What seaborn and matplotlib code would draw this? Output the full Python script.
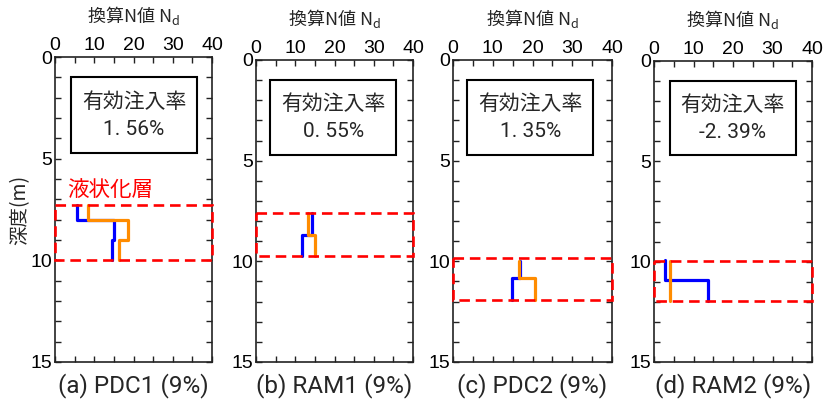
import matplotlib
matplotlib.use("Agg")
import matplotlib.pyplot as plt
from matplotlib.patches import Rectangle
from matplotlib.ticker import MultipleLocator
import seaborn as sns
import pandas as pd

sns.set_style("ticks")
plt.rcParams['font.family'] = ['Liberation Sans', 'Noto Sans CJK JP', 'DejaVu Sans']

# ---------------- data ----------------
panel_labels = ["(a) PDC1 (9%)", "(b) RAM1 (9%)", "(c) PDC2 (9%)", "(d) RAM2 (9%)"]
rates = ["1.56%", "0.55%", "1.35%", "-2.39%"]

# liquefied layer (top, bottom depth in m)
layer_top = [7.3, 7.6, 9.85, 9.95]
layer_bottom = [10.0, 9.75, 11.92, 11.95]

# step profiles: layer boundary depths and N values per layer
blue_depths = [[7.3, 8.0, 9.0, 10.0], [7.6, 8.7, 9.75], [10.0, 10.85, 11.92], [9.9, 10.9, 11.95]]
blue_N = [[5.7, 15.0, 14.6], [14.3, 11.7], [16.9, 14.9], [2.8, 13.7]]
orange_depths = [[7.3, 8.0, 9.0, 10.0], [7.6, 8.7, 9.75], [10.0, 10.85, 11.92], [9.95, 11.95]]
orange_N = [[8.3, 18.7, 16.3], [13.2, 15.0], [16.6, 20.6], [4.05]]

x_ticks = [0, 10, 20, 30, 40]
y_ticks = [0, 5, 10, 15]

# ---------------- layout ----------------
W, H = 835, 408
axes_px = [(55, 212, 57, 362), (256, 413, 60, 362), (453, 612, 60, 362), (654, 812, 61, 362)]
box_x = [(4.2, 36.1), (3.6, 35.7), (3.6, 35.3), (4.0, 35.9)]

BLUE = "#0000FF"
ORANGE = "#FF8C00"
RED = "#FF0000"
SPINE = "#222222"
CJK = ['Noto Sans CJK JP', 'DejaVu Sans']
NARROW = ['Roboto', 'Noto Sans CJK JP', 'DejaVu Sans']


def profile(depths, values, name):
    xs, ys = [], []
    for i, v in enumerate(values):
        xs += [v, v]
        ys += [depths[i], depths[i + 1]]
    return pd.DataFrame({"N": xs, "depth": ys, "series": name})


fig = plt.figure(figsize=(W / 100, H / 100), dpi=100)

for i in range(4):
    l, r, t, b = axes_px[i]
    ax = fig.add_axes([l / W, 1 - b / H, (r - l) / W, (b - t) / H])
    df = pd.concat([profile(blue_depths[i], blue_N[i], "blue"),
                    profile(orange_depths[i], orange_N[i], "orange")], ignore_index=True)
    sns.lineplot(data=df, x="N", y="depth", hue="series",
                 palette={"blue": BLUE, "orange": ORANGE},
                 hue_order=["blue", "orange"], sort=False, estimator=None,
                 linewidth=2.3, legend=False, ax=ax)

    ax.set_xlim(0, 40)
    ax.set_ylim(15, 0)
    ax.set_xticks(x_ticks)
    ax.set_yticks(y_ticks)
    ax.xaxis.set_minor_locator(MultipleLocator(5))
    ax.yaxis.set_minor_locator(MultipleLocator(1))
    ax.xaxis.tick_top()
    ax.xaxis.set_label_position("top")
    ax.tick_params(which="both", direction="in", top=True, bottom=True,
                   left=True, right=True, color=SPINE, width=1.0)
    ax.tick_params(which="major", length=4, labelsize=14, pad=2, labelcolor="black")
    ax.tick_params(which="minor", length=4)
    for s in ax.spines.values():
        s.set_color(SPINE)
        s.set_linewidth(1.2)

    ax.set_xlabel("換算N値 N$_\\mathregular{d}$", fontsize=13, family=CJK, labelpad=11)
    if i == 0:
        ax.set_ylabel("深度(m)", fontsize=14, family=CJK)
        ax.yaxis.set_label_coords(-0.16, 0.5)
    else:
        ax.set_ylabel("")

    # liquefied layer dashed box
    ax.add_patch(Rectangle((0, layer_top[i]), 40, layer_bottom[i] - layer_top[i],
                           fill=False, edgecolor=RED, linewidth=1.9,
                           linestyle=(0, (4, 2.2)), clip_on=False, zorder=5))

    # rate box
    x0, x1 = box_x[i]
    ax.add_patch(Rectangle((x0, 1.0), x1 - x0, 3.7, fill=False, edgecolor="black",
                           linewidth=1.5, zorder=4))
    xc = (x0 + x1) / 2
    ax.text(xc, 2.2, "有効注入率", ha="center", va="center", fontsize=15, family=CJK)
    ax.text(xc, 3.55, rates[i].replace(".", ". "), ha="center", va="center",
            fontsize=15, family=NARROW)

    if i == 0:
        ax.text(3.0, 6.55, "液状化層", ha="left", va="center", fontsize=15.5, color=RED,
                family=CJK)

    fig.text((l + r) / 2 / W, 1 - 386 / H, panel_labels[i], ha="center",
             va="center", fontsize=17.5, family=NARROW)

fig.savefig("out.png", dpi=100)
